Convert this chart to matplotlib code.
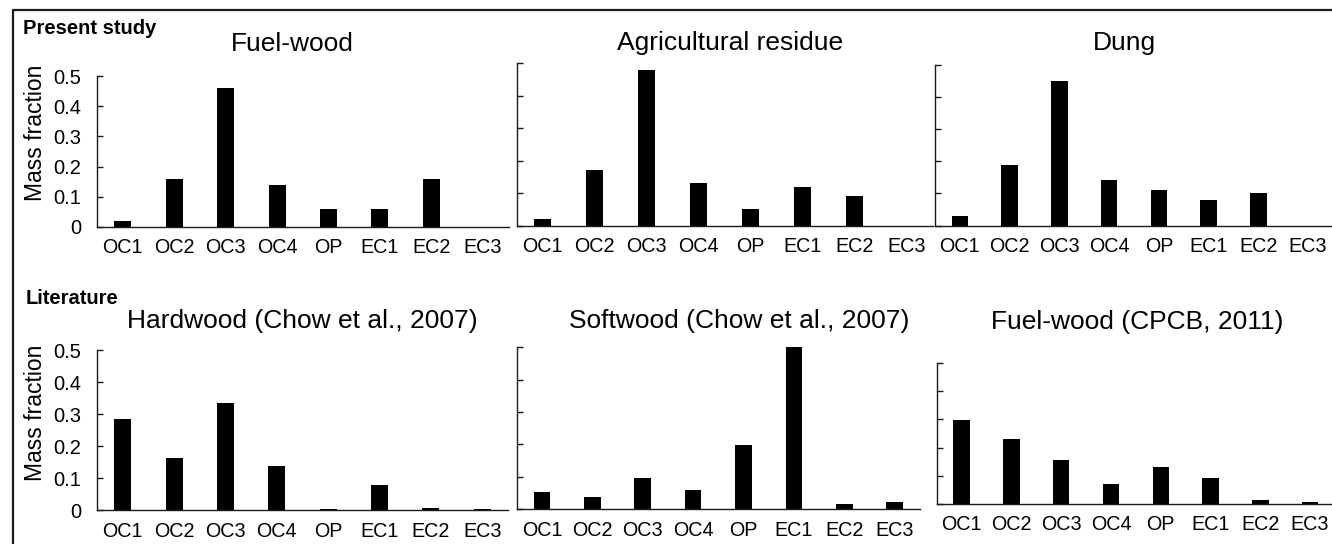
import matplotlib
matplotlib.use("Agg")
import matplotlib.pyplot as plt
from matplotlib.lines import Line2D

plt.rcParams['font.family'] = ['Liberation Sans', 'DejaVu Sans']

categories = ['OC1', 'OC2', 'OC3', 'OC4', 'OP', 'EC1', 'EC2', 'EC3']
ytick_values = [0, 0.1, 0.2, 0.3, 0.4, 0.5]
ytick_labels = ['0', '0.1', '0.2', '0.3', '0.4', '0.5']

titles = ['Fuel-wood', 'Agricultural residue', 'Dung',
          'Hardwood (Chow et al., 2007)', 'Softwood (Chow et al., 2007)',
          'Fuel-wood (CPCB, 2011)']

fuel_wood = [0.02, 0.16, 0.46, 0.14, 0.06, 0.06, 0.16, 0.0]
agri_residue = [0.022, 0.17, 0.48, 0.13, 0.052, 0.12, 0.09, 0.0]
dung = [0.031, 0.19, 0.45, 0.142, 0.112, 0.081, 0.102, 0.0]
hardwood = [0.285, 0.164, 0.336, 0.137, 0.004, 0.078, 0.006, 0.003]
softwood = [0.052, 0.038, 0.097, 0.059, 0.199, 0.50, 0.017, 0.023]
cpcb_fuel_wood = [0.296, 0.229, 0.155, 0.072, 0.13, 0.093, 0.016, 0.007]

series = [fuel_wood, agri_residue, dung, hardwood, softwood, cpcb_fuel_wood]

W, H = 1332, 544
fig = plt.figure(figsize=(W / 100, H / 100), dpi=100)

# panel boxes in pixels: x_left, x_right, y_top(0.5), y_zero
boxes = [
    (97, 508.5, 76.3, 226.7),
    (516.7, 932.7, 63.3, 225.7),
    (935, 1333, 64.7, 225.7),
    (97, 508, 350.3, 510.3),
    (516.7, 920, 347.3, 509),
    (936.7, 1335, 362.7, 504.3),
]
title_pos = [(292, 44), (730, 43), (1124, 43), (302, 321), (739, 321), (1137, 322)]
xpads = [8, 8, 8, 8.5, 8.5, 7.5]

axis_color = '#1a1a1a'
for i, (vals, box) in enumerate(zip(series, boxes)):
    x0, x1, yt, y0 = box
    ax = fig.add_axes([x0 / W, 1 - y0 / H, (x1 - x0) / W, (y0 - yt) / H])
    xs = list(range(len(categories)))
    ax.bar(xs, vals, width=0.33, color='black')
    ax.set_xlim(-0.5, len(categories) - 0.5)
    ax.set_ylim(0, 0.5)
    ax.set_xticks(xs)
    ax.set_xticklabels(categories, fontsize=14.2)
    ax.set_yticks(ytick_values)
    ax.tick_params(axis='x', length=0, pad=xpads[i])
    ax.tick_params(axis='y', direction='in', length=4.5, width=1, color=axis_color)
    if i in (0, 3):
        ax.set_yticklabels(ytick_labels, fontsize=14.5)
        ax.tick_params(axis='y', pad=11.5)
        ax.set_ylabel('Mass fraction', fontsize=16.5, labelpad=4,
                      y=0.623 if i == 0 else 0.61)
    else:
        ax.set_yticklabels([])
    for s in ('top', 'right'):
        ax.spines[s].set_visible(False)
    for s in ('left', 'bottom'):
        ax.spines[s].set_linewidth(1.0)
        ax.spines[s].set_color(axis_color)
    ax.patch.set_alpha(0)
    tx, ty = title_pos[i]
    fig.text(tx / W, 1 - ty / H, titles[i], fontsize=19, ha='center', va='center')

fig.text(23 / W, 1 - 29 / H, 'Present study', fontsize=14.5, fontweight='bold',
         ha='left', va='center')
fig.text(26 / W, 1 - 299 / H, 'Literature', fontsize=14.5, fontweight='bold',
         ha='left', va='center')

# outer frame (left and top edges)
fig.add_artist(Line2D([12.7 / W, 12.7 / W, 1.0], [0.0, 1 - 10 / H, 1 - 10 / H],
                      transform=fig.transFigure, color='#1a1a1a', linewidth=1.6))

fig.savefig('out.png', dpi=100)
